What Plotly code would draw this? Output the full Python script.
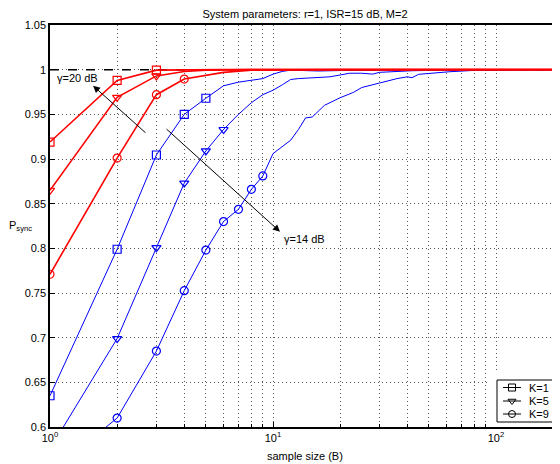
import numpy as np
import plotly.graph_objects as go

# ---------------- data ----------------
# gamma = 20 dB (red)
x_r1 = [1, 2, 3, 4, 6, 10, 200]
y_r1 = [0.919, 0.988, 0.9995, 1.0, 1.0, 1.0, 1.0]
x_r5 = [1, 2, 3, 4, 5, 8, 200]
y_r5 = [0.865, 0.969, 0.993, 0.998, 0.9995, 1.0, 1.0]
x_r9 = [1, 2, 3, 4, 6, 8, 12, 20, 200]
y_r9 = [0.771, 0.901, 0.972, 0.9895, 0.997, 0.9993, 0.9998, 1.0, 1.0]

# gamma = 14 dB (blue)
x_b1 = [1, 2, 3, 4, 5, 6, 7, 8, 9, 10, 11, 12, 14, 16, 20, 30, 50, 100, 200]
y_b1 = [0.635, 0.799, 0.9045, 0.950, 0.968, 0.982, 0.986, 0.9885, 0.990, 0.995,
        0.998, 0.9995, 0.999, 0.9985, 0.999, 0.9995, 0.9995, 1.0, 1.0]
x_b5 = [1, 2, 3, 4, 5, 6, 7, 8, 9, 10, 11, 12, 13, 15, 18, 20, 22, 25, 28, 30,
        35, 42, 60, 100, 200]
y_b5 = [0.5755, 0.699, 0.8007, 0.873, 0.909, 0.933, 0.950, 0.963, 0.972, 0.977,
        0.983, 0.989, 0.990, 0.991, 0.992, 0.994, 0.996, 0.996, 0.995, 0.997,
        0.998, 0.9988, 0.9995, 1.0, 1.0]
x_b9 = [1, 2, 3, 4, 5, 6, 7, 8, 9, 10, 12, 13, 14, 15, 17, 20, 23, 25, 30, 36,
        40, 42, 45, 50, 62, 80, 100, 200]
y_b9 = [0.549, 0.610, 0.685, 0.7526, 0.798, 0.830, 0.8437, 0.866, 0.881, 0.906,
        0.921, 0.933, 0.946, 0.947, 0.960, 0.9686, 0.9747, 0.980, 0.985, 0.990,
        0.992, 0.991, 0.9948, 0.996, 0.9977, 0.9992, 0.9995, 1.0]

legend_labels = ["K=1", "K=5", "K=9"]
symbols = ["square-open", "triangle-down-open", "circle-open"]
y_tick_vals = [0.6, 0.65, 0.7, 0.75, 0.8, 0.85, 0.9, 0.95, 1.0, 1.05]
y_tick_text = ["0.6", "0.65", "0.7", "0.75", "0.8", "0.85", "0.9", "0.95", "1", "1.05"]
x_major = [1, 10, 100]
x_major_text = ["10<sup>0</sup>", "10<sup>1</sup>", "10<sup>2</sup>"]
x_minor = [m * d for d in (1, 10, 100) for m in range(2, 10)]

FONT = "Liberation Sans, Arial, Helvetica, sans-serif"
RED = "#ff0000"
BLUE = "#0000ff"
GRID = "#555555"
GRIDDASH = "1px,3px"

fig = go.Figure()

# reference dashed line at P=1
fig.add_trace(go.Scatter(x=[1, 200], y=[1, 1], mode="lines",
                         line=dict(color="black", width=1.5, dash="dash"),
                         showlegend=False, hoverinfo="skip"))

series = [
    (x_b1, y_b1, BLUE, 1.0, symbols[0], 5),
    (x_b5, y_b5, BLUE, 1.0, symbols[1], 6),
    (x_b9, y_b9, BLUE, 1.0, symbols[2], 9),
    (x_r1, y_r1, RED, 1.6, symbols[0], 3),
    (x_r5, y_r5, RED, 1.6, symbols[1], 3),
    (x_r9, y_r9, RED, 1.6, symbols[2], 4),
]
for xs, ys, col, lw, sym, nm in series:
    fig.add_trace(go.Scatter(x=xs, y=ys, mode="lines",
                             line=dict(color=col, width=lw),
                             showlegend=False))
    fig.add_trace(go.Scatter(x=xs[:nm], y=ys[:nm], mode="markers",
                             marker=dict(symbol=sym, size=8, color=col,
                                         line=dict(color=col, width=1.2)),
                             showlegend=False))

# ---- compact MATLAB-style legend box, drawn in an overlay subplot whose
# axis units are page pixels (x: 488.6..560, y: 427..370.7) ----
LX0, LX1 = 488.6, 560.0
LY0, LY1 = 427.0, 427.0 - 0.14 * 402
fig.add_trace(go.Scatter(x=[497, 556, 556, 497, 497], y=[380, 380, 422, 422, 380],
                         mode="lines", fill="toself", fillcolor="white",
                         line=dict(color="black", width=1),
                         xaxis="x2", yaxis="y2", showlegend=False, hoverinfo="skip"))
rows = [387.5, 401.0, 414.0]
for lab, sym, ry in zip(legend_labels, symbols, rows):
    fig.add_trace(go.Scatter(x=[503, 521], y=[ry, ry], mode="lines",
                             line=dict(color="black", width=1),
                             xaxis="x2", yaxis="y2", showlegend=False,
                             hoverinfo="skip"))
    fig.add_trace(go.Scatter(x=[512], y=[ry], mode="markers",
                             marker=dict(symbol=sym, size=7, color="black",
                                         line=dict(color="black", width=1)),
                             xaxis="x2", yaxis="y2", showlegend=False,
                             hoverinfo="skip"))
    fig.add_annotation(x=527, y=ry, xref="x2", yref="y2", text=lab,
                       showarrow=False, xanchor="left", yanchor="middle",
                       font=dict(family=FONT, size=11, color="black"))

# arrows and labels
fig.add_annotation(x=np.log10(1.56), y=0.982, ax=np.log10(2.72), ay=0.928,
                   xref="x", yref="y", axref="x", ayref="y", text="",
                   showarrow=True, arrowhead=2, arrowsize=1.4, arrowwidth=1,
                   arrowcolor="black")
fig.add_annotation(x=np.log10(1.05), y=0.9905, xref="x", yref="y",
                   text="γ=20 dB", showarrow=False, xanchor="left",
                   yanchor="middle", font=dict(family=FONT, size=11, color="black"))
fig.add_annotation(x=np.log10(10.75), y=0.8186, ax=np.log10(3.28), ay=0.935,
                   xref="x", yref="y", axref="x", ayref="y", text="",
                   showarrow=True, arrowhead=2, arrowsize=1.4, arrowwidth=1,
                   arrowcolor="black")
fig.add_annotation(x=np.log10(11.0), y=0.8104, xref="x", yref="y",
                   text="γ=14 dB", showarrow=False, xanchor="left",
                   yanchor="middle", font=dict(family=FONT, size=11, color="black"))

# axis titles
fig.add_annotation(x=-0.057, y=0.5, xref="paper", yref="paper",
                   text="P<sub>sync</sub>", showarrow=False,
                   xanchor="center", yanchor="middle",
                   font=dict(family=FONT, size=11, color="black"))
fig.add_annotation(x=0.5, y=-0.072, xref="paper", yref="paper",
                   text="sample size (B)", showarrow=False,
                   xanchor="center", yanchor="middle",
                   font=dict(family=FONT, size=11, color="black"))

# page has an 8px body margin: size the figure to fit the 560x464 window
fig.update_layout(
    width=552, height=456,
    margin=dict(l=42, r=0, t=17, b=37),
    paper_bgcolor="white", plot_bgcolor="white",
    font=dict(family=FONT, size=11, color="black"),
    title=dict(text="System parameters: r=1, ISR=15 dB, M=2",
               xref="paper", x=0.5, xanchor="center",
               y=1 - 6 / 456, yanchor="middle",
               font=dict(family=FONT, size=11, color="black")),
    showlegend=False,
    xaxis2=dict(domain=[0.86, 1.0], range=[LX0, LX1], anchor="y2", visible=False),
    yaxis2=dict(domain=[0.0, 0.14], range=[LY0, LY1], anchor="x2", visible=False),
)
fig.update_xaxes(selector=dict(type="log"))
fig.update_layout(xaxis=dict(
    type="log", range=[0, 510 / 223], domain=[0, 1],
    tickmode="array", tickvals=x_major, ticktext=x_major_text,
    ticks="inside", ticklen=5, tickcolor="black",
    showgrid=True, gridcolor=GRID, griddash=GRIDDASH, gridwidth=1,
    minor=dict(tickmode="array", tickvals=x_minor, ticks="inside",
               ticklen=3, tickcolor="black", showgrid=True,
               gridcolor=GRID, griddash=GRIDDASH, gridwidth=1),
    showline=True, linecolor="black", linewidth=1.5, mirror=True,
    zeroline=False))
fig.update_layout(yaxis=dict(
    range=[0.6, 1.05], domain=[0, 1],
    tickmode="array", tickvals=y_tick_vals, ticktext=y_tick_text,
    ticks="inside", ticklen=5, tickcolor="black",
    showgrid=True, gridcolor=GRID, griddash=GRIDDASH, gridwidth=1,
    showline=True, linecolor="black", linewidth=1.5, mirror=False,
    zeroline=False))

fig.write_html("out.html")
